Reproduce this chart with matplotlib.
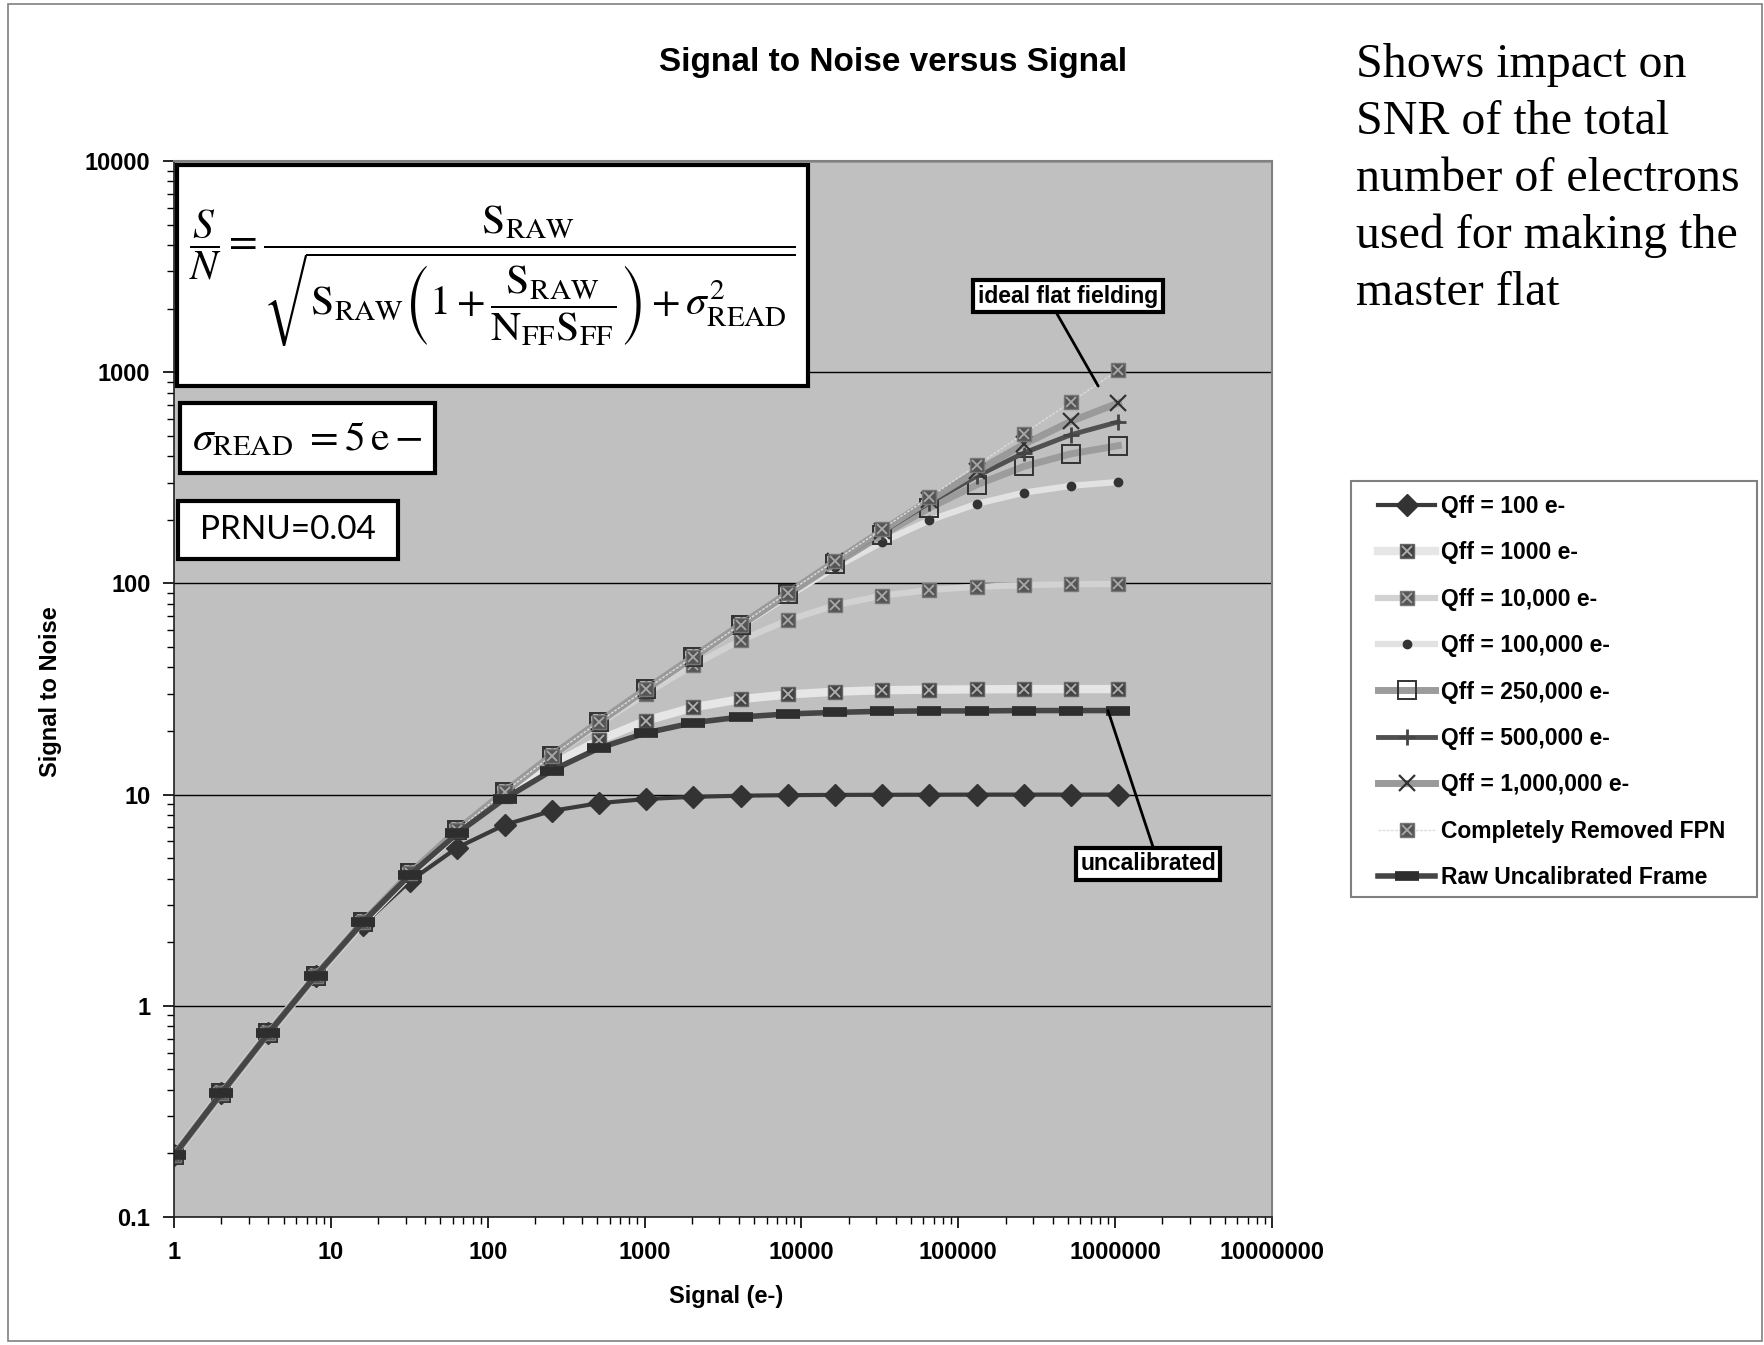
import numpy as np
import matplotlib
matplotlib.use("Agg")
import matplotlib.pyplot as plt
from matplotlib.patches import Rectangle
from matplotlib.ticker import FixedLocator, LogLocator, NullFormatter, FuncFormatter

plt.rcParams['font.family'] = ['Liberation Sans', 'DejaVu Sans']
plt.rcParams['mathtext.fontset'] = 'stix'

#------------------- data -------------------#
signal_e = [1, 2, 4, 8, 16, 32, 64, 128, 256, 512, 1024, 2048, 4096, 8192,
            16384, 32768, 65536, 131072, 262144, 524288, 1048576]

snr_q100 = [0.196, 0.385, 0.741, 1.38, 2.42, 3.90, 5.61, 7.19, 8.37, 9.11, 9.53,
            9.76, 9.88, 9.94, 9.97, 9.98, 9.99, 10.0, 10.0, 10.0, 10.0]
snr_q1000 = [0.196, 0.385, 0.743, 1.39, 2.49, 4.20, 6.63, 9.84, 13.8, 18.1, 22.4,
             25.9, 28.3, 29.8, 30.7, 31.2, 31.4, 31.5, 31.6, 31.6, 31.6]
snr_q10k = [0.196, 0.385, 0.743, 1.39, 2.50, 4.24, 6.77, 10.3, 15.1, 21.6, 30.1,
            41.0, 53.8, 67.0, 78.8, 87.5, 93.1, 96.4, 98.1, 99.1, 99.5]
snr_q100k = [0.196, 0.385, 0.743, 1.39, 2.50, 4.24, 6.78, 10.3, 15.3, 22.0, 31.5,
             44.5, 62.5, 86.9, 119, 157, 199, 238, 269, 290, 302]
snr_q250k = [0.196, 0.385, 0.743, 1.39, 2.50, 4.24, 6.78, 10.3, 15.3, 22.1, 31.6,
             44.8, 63.3, 88.9, 124, 170, 228, 293, 358, 411, 449]
snr_q500k = [0.196, 0.385, 0.743, 1.39, 2.50, 4.24, 6.78, 10.3, 15.3, 22.1, 31.6,
             44.9, 63.6, 89.6, 126, 175, 241, 322, 415, 506, 582]
snr_q1m = [0.196, 0.385, 0.743, 1.39, 2.50, 4.24, 6.78, 10.3, 15.3, 22.1, 31.6,
           44.9, 63.7, 90.0, 127, 178, 248, 340, 456, 586, 715]
snr_fpn = [0.196, 0.385, 0.743, 1.39, 2.50, 4.24, 6.78, 10.3, 15.3, 22.1, 31.6,
           45.0, 63.8, 90.4, 128, 181, 256, 362, 512, 724, 1024]
snr_raw = [0.196, 0.385, 0.742, 1.39, 2.49, 4.18, 6.55, 9.56, 13.0, 16.6, 19.6,
           21.9, 23.3, 24.1, 24.5, 24.8, 24.9, 24.9, 25.0, 25.0, 25.0]

labels = ["Qff = 100 e-", "Qff = 1000 e-", "Qff = 10,000 e-", "Qff = 100,000 e-",
          "Qff = 250,000 e-", "Qff = 500,000 e-", "Qff = 1,000,000 e-",
          "Completely Removed FPN", "Raw Uncalibrated Frame"]

y_ticks = [0.1, 1, 10, 100, 1000, 10000]
x_ticks = [1, 10, 100, 1000, 10000, 100000, 1000000, 10000000]

#------------------------- figure -----------------------------#
W, H = 1764, 1345
fig = plt.figure(figsize=(W / 100, H / 100), dpi=100, facecolor="white")

def fx(x):
    return x / W

def fy(y):
    return 1 - y / H

# outer chart-area border
fig.add_artist(Rectangle((fx(8), fy(1341)), fx(1762) - fx(8), fy(4) - fy(1341),
                         transform=fig.transFigure, fill=False,
                         edgecolor="#808080", lw=1.2))

ax = fig.add_axes([fx(174), fy(1217), fx(1272) - fx(174), fy(161) - fy(1217)])
ax.set_facecolor("#c0c0c0")
ax.set_xscale("log")
ax.set_yscale("log")
ax.set_xlim(1, 1e7)
ax.set_ylim(0.1, 1e4)

ax.yaxis.set_major_locator(FixedLocator(y_ticks))
ax.xaxis.set_major_locator(FixedLocator(x_ticks))
ax.yaxis.set_minor_locator(LogLocator(base=10, subs=np.arange(2, 10)))
ax.xaxis.set_minor_locator(LogLocator(base=10, subs=np.arange(2, 10)))
ax.yaxis.set_minor_formatter(NullFormatter())
ax.xaxis.set_minor_formatter(NullFormatter())
ax.yaxis.set_major_formatter(FuncFormatter(lambda v, p: ("%g" % v) if v < 1 else "%d" % v))
ax.xaxis.set_major_formatter(FuncFormatter(lambda v, p: "%d" % v))
ax.tick_params(which="major", direction="out", length=8, width=1.2, pad=9,
               labelsize=17)
ax.tick_params(which="minor", direction="out", length=5, width=1.0)
for lab in ax.get_xticklabels() + ax.get_yticklabels():
    lab.set_fontweight("bold")

ax.grid(True, axis="y", which="major", color="black", lw=1.0)
ax.set_axisbelow(True)
for s in ["top", "right"]:
    ax.spines[s].set_color("#808080")
    ax.spines[s].set_linewidth(1.5)
for s in ["left", "bottom"]:
    ax.spines[s].set_color("#202020")
    ax.spines[s].set_linewidth(1.2)

#------------------------- series -----------------------------#
handles = []
h, = ax.plot(signal_e, snr_q100, color="#3a3a3a", lw=3, marker="D",
             ms=11, mfc="#333333", mec="#333333")
handles.append(h)

h1, = ax.plot(signal_e, snr_q1000, color="#e6e6e6", lw=6, marker="s",
              ms=10, mfc="#444444", mec="#666666")
h1x, = ax.plot(signal_e, snr_q1000, ls="none", marker="x", ms=7, mew=1.3, color="#b0b0b0")
handles.append((h1, h1x))

h2, = ax.plot(signal_e, snr_q10k, color="#d2d2d2", lw=4.5, marker="s",
              ms=10, mfc="#555555", mec="#777777")
h2x, = ax.plot(signal_e, snr_q10k, ls="none", marker="x", ms=7, mew=1.3, color="#a8a8a8")
handles.append((h2, h2x))

h, = ax.plot(signal_e, snr_q100k, color="#e2e2e2", lw=4.5, marker="o",
             ms=6, mfc="#333333", mec="#333333")
handles.append(h)

h, = ax.plot(signal_e, snr_q250k, color="#9c9c9c", lw=5, marker="s",
             ms=13, mfc="none", mec="#333333", mew=1.4)
handles.append(h)

h, = ax.plot(signal_e, snr_q500k, color="#505050", lw=3.5, marker="+",
             ms=12, mew=2, mec="#444444")
handles.append(h)

h, = ax.plot(signal_e, snr_q1m, color="#9a9a9a", lw=5, marker="x",
             ms=11, mew=1.6, mec="#333333")
handles.append(h)

h8, = ax.plot(signal_e, snr_fpn, color="#dcdcdc", lw=1, ls=(0, (2, 1)), marker="s",
              ms=10, mfc="#555555", mec="#777777")
h8x, = ax.plot(signal_e, snr_fpn, ls="none", marker="x", ms=7, mew=1.3, color="#a8a8a8")
handles.append((h8, h8x))

h, = ax.plot(signal_e, snr_raw, color="#454545", lw=4, marker="_",
             ms=17, mew=7, mec="#2e2e2e")
handles.append(h)

# legend frame drawn by hand, entries placed inside
fig.add_artist(Rectangle((fx(1351), fy(897)), fx(1757) - fx(1351), fy(481) - fy(897),
                         transform=fig.transFigure, facecolor="white",
                         edgecolor="#808080", lw=1.5))
leg = fig.legend(handles, labels, loc="upper left",
                 bbox_to_anchor=(fx(1378), fy(495)), bbox_transform=fig.transFigure,
                 borderaxespad=0, borderpad=0, frameon=False,
                 prop={"size": 16.5, "weight": "bold"},
                 handlelength=2.5, handletextpad=0.25, labelspacing=1.02)

#---------------------- annotations ---------------------------#
ax.annotate("ideal flat fielding", xy=(7.8e5, 860), xytext=(5.0e5, 2290),
            textcoords="data", ha="center", va="center", fontsize=16.5,
            fontweight="bold",
            bbox=dict(boxstyle="square,pad=0.2", fc="white", ec="black", lw=3),
            arrowprops=dict(arrowstyle="-", color="black", lw=2,
                            relpos=(0.42, 0.0), shrinkA=0, shrinkB=0))
ax.annotate("uncalibrated", xy=(9.0e5, 25), xytext=(1.62e6, 4.7),
            textcoords="data", ha="center", va="center", fontsize=16.5,
            fontweight="bold",
            bbox=dict(boxstyle="square,pad=0.2", fc="white", ec="black", lw=3),
            arrowprops=dict(arrowstyle="-", color="black", lw=2,
                            relpos=(0.55, 1.0), shrinkA=0, shrinkB=0))

#---------------------- formula boxes -------------------------#
def box(x0, y0, x1, y1, lw=3):
    fig.add_artist(Rectangle((fx(x0), fy(y1)), fx(x1) - fx(x0), fy(y0) - fy(y1),
                             transform=fig.transFigure, facecolor="white",
                             edgecolor="black", lw=lw, zorder=5))

box(177, 165, 808, 386)
fig.text(fx(492), fy(276),
         r"$\dfrac{S}{N}=\dfrac{\mathrm{S}_{\mathrm{RAW}}}{\sqrt{\mathrm{S}_{\mathrm{RAW}}"
         r"\left(1+\dfrac{\mathrm{S}_{\mathrm{RAW}}}{\mathrm{N}_{\mathrm{FF}}\mathrm{S}_{\mathrm{FF}}}\right)"
         r"+\sigma^{2}_{\mathrm{READ}}}}$",
         ha="center", va="center", fontsize=30, zorder=6)

box(180, 403, 435, 473)
fig.text(fx(307), fy(439), r"$\sigma_{\mathrm{READ}}\ =5\,\mathrm{e}-$",
         ha="center", va="center", fontsize=30, zorder=6)

box(178, 501, 398, 559)
fig.text(fx(288), fy(530), "PRNU=0.04", ha="center", va="center",
         fontsize=24, family=["Lato", "DejaVu Sans"], zorder=6)

#------------------------ titles -------------------------------#
fig.text(fx(893), fy(62), "Signal to Noise versus Signal", ha="center",
         va="center", fontsize=24, fontweight="bold")
fig.text(fx(726), fy(1297), "Signal (e-)", ha="center", va="center",
         fontsize=17, fontweight="bold")
fig.text(fx(51), fy(692), "Signal to Noise", ha="center", va="center",
         rotation=90, fontsize=17, fontweight="bold")

fig.text(fx(1356), fy(43),
         "Shows impact on\nSNR of the total\nnumber of electrons\nused for making the\nmaster flat",
         ha="left", va="top", fontsize=34.5, family=["Liberation Serif", "DejaVu Serif"],
         linespacing=1.38)

fig.savefig("out.png", dpi=100, facecolor="white")
